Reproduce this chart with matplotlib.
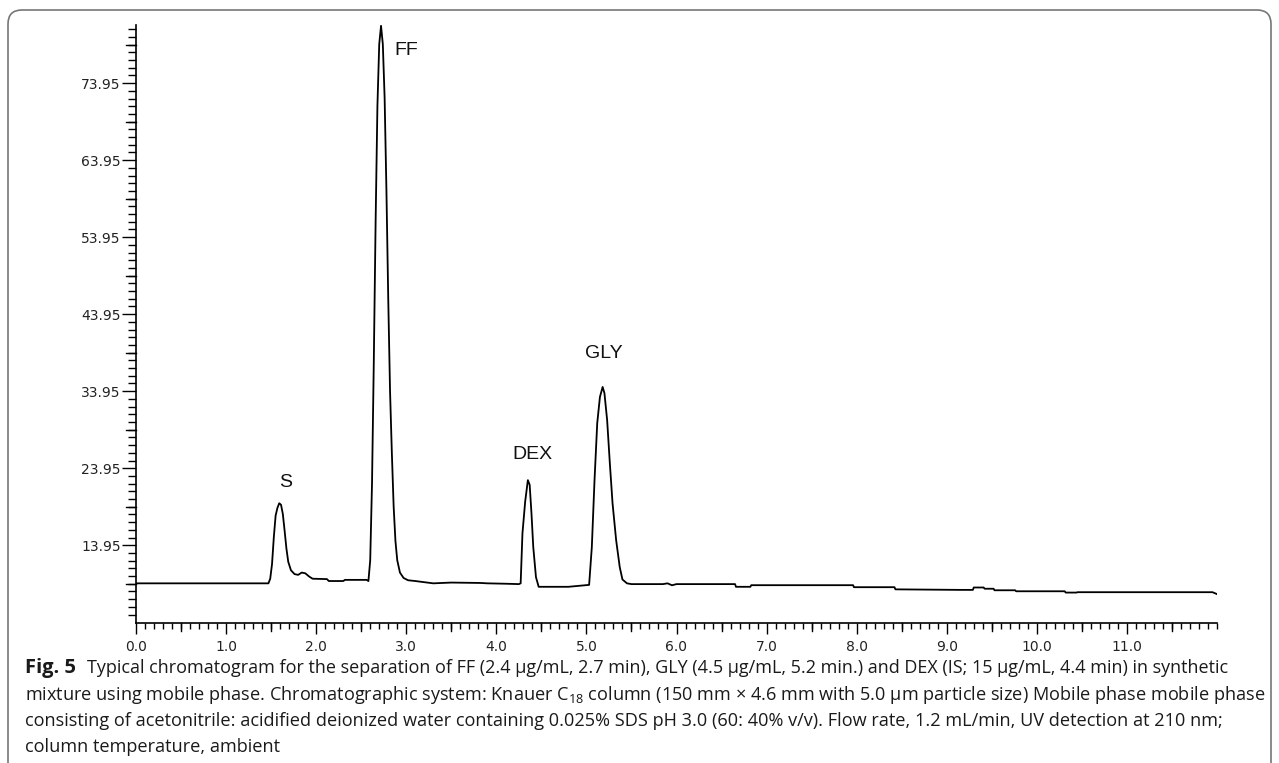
import matplotlib
matplotlib.use("Agg")
import matplotlib.pyplot as plt
from matplotlib.patches import FancyBboxPatch
from matplotlib.transforms import IdentityTransform
from matplotlib.ticker import FixedLocator
import numpy as np

# retention time (min) and detector signal
time = [0.0, 1.47, 1.49, 1.51, 1.53, 1.55, 1.57, 1.59, 1.61, 1.63, 1.65, 1.67, 1.69,
        1.72, 1.76, 1.80, 1.84, 1.88, 1.92, 1.96, 2.12, 2.14, 2.30, 2.32, 2.56,
        2.58, 2.60, 2.62, 2.64, 2.66, 2.68, 2.70, 2.72, 2.74, 2.76, 2.78, 2.80,
        2.82, 2.84, 2.86, 2.88, 2.90, 2.93, 2.97, 3.02, 3.10, 3.30, 3.50, 3.82,
        3.90, 4.10, 4.25, 4.27, 4.29, 4.32, 4.35, 4.37, 4.39, 4.41, 4.44, 4.47,
        4.80, 5.03, 5.06, 5.09, 5.12, 5.15, 5.18, 5.20, 5.23, 5.26, 5.29, 5.33,
        5.37, 5.40, 5.45, 5.50, 5.85, 5.90, 5.95, 6.00, 6.65, 6.66, 6.82, 6.83,
        7.96, 7.97, 8.42, 8.43, 9.15, 9.29, 9.30, 9.41, 9.42, 9.52, 9.53, 9.76,
        9.77, 10.31, 10.32, 10.44, 10.45, 11.95, 12.0]
signal = [9.0, 9.0, 9.6, 11.5, 15.0, 17.8, 18.8, 19.4, 19.2, 18.0, 15.8, 13.5, 11.8,
          10.7, 10.2, 10.1, 10.4, 10.3, 9.9, 9.6, 9.55, 9.3, 9.3, 9.45, 9.45,
          9.3, 12.0, 22.0, 38.0, 56.0, 71.0, 79.0, 81.4, 79.0, 72.0, 60.0, 46.0,
          34.0, 26.0, 19.0, 14.5, 12.0, 10.4, 9.7, 9.4, 9.3, 9.0, 9.1, 9.05,
          9.0, 8.95, 8.9, 9.0, 15.5, 19.6, 22.4, 21.8, 18.1, 13.7, 9.8, 8.55,
          8.55, 8.8, 13.7, 22.4, 29.8, 33.2, 34.5, 33.7, 30.2, 24.6, 19.4, 14.6,
          11.1, 9.5, 9.0, 8.9, 8.9, 9.0, 8.75, 8.9, 8.9, 8.55, 8.55, 8.76,
          8.76, 8.5, 8.5, 8.22, 8.15, 8.15, 8.46, 8.46, 8.3, 8.3, 8.1, 8.1,
          7.97, 7.97, 7.8, 7.8, 7.85, 7.85, 7.6]

peak_names = ["S", "FF", "DEX", "GLY"]
label_x = [1.66, 3.00, 4.40, 5.19]
label_y = [22.1, 78.2, 25.7, 38.9]

y_major = [13.95, 23.95, 33.95, 43.95, 53.95, 63.95, 73.95]
x_major = list(range(0, 12))

caption_bold = "Fig. 5"
caption_lines = [
    "Typical chromatogram for the separation of FF (2.4 µg/mL, 2.7 min), GLY (4.5 µg/mL, 5.2 min.) and DEX (IS; 15 µg/mL, 4.4 min) in synthetic",
    "mixture using mobile phase. Chromatographic system: Knauer C$_\\mathrm{18}$ column (150 mm × 4.6 mm with 5.0 µm particle size) Mobile phase mobile phase",
    "consisting of acetonitrile: acidified deionized water containing 0.025% SDS pH 3.0 (60: 40% v/v). Flow rate, 1.2 mL/min, UV detection at 210 nm;",
    "column temperature, ambient",
]
caption_sizes = [13.0, 13.05, 13.1, 13.1]

plt.rcParams["mathtext.fontset"] = "custom"
plt.rcParams["mathtext.rm"] = "Open Sans"

W, H = 1279, 763
fig = plt.figure(figsize=(W / 100, H / 100), dpi=100)
ax_l, ax_r, ax_t, ax_b = 136, 1217, 25, 623
ax = fig.add_axes([ax_l / W, 1 - ax_b / H, (ax_r - ax_l) / W, (ax_b - ax_t) / H])

ax.plot(time, signal, color="black", lw=1.3)
ax.set_xlim(0, 12)
ax.set_ylim(3.85, 81.5)

for s in ["top", "right"]:
    ax.spines[s].set_visible(False)
for s in ["left", "bottom"]:
    ax.spines[s].set_linewidth(1.2)

ax.set_yticks(y_major)
ax.set_yticklabels(["%.2f" % v for v in y_major])
ax.yaxis.set_minor_locator(FixedLocator(np.arange(4.95, 81.0, 1.0)))
ax.set_xticks(x_major)
ax.set_xticklabels(["%.1f" % v for v in x_major])
ax.xaxis.set_minor_locator(FixedLocator(np.arange(0.1, 12.01, 0.1)))

ax.tick_params(axis="y", which="major", length=10, width=1.0, pad=1, labelsize=10)
ax.tick_params(axis="y", which="minor", length=6, width=1.0)
ax.tick_params(axis="x", which="major", length=8, width=1.0, pad=4, labelsize=10)
ax.tick_params(axis="x", which="minor", length=4.5, width=1.0)
for lab in ax.get_xticklabels() + ax.get_yticklabels():
    lab.set_family("DejaVu Sans")
    lab.set_color("#222222")

# half-way ticks drawn a bit longer
for v in np.arange(8.95, 81.0, 10.0):
    ax.plot([-10 / (ax_r - ax_l), 0], [v, v], color="black", lw=1.0, clip_on=False,
            transform=ax.get_yaxis_transform())
for v in np.arange(0.5, 12.0, 1.0):
    ax.plot([v, v], [0, -8 / (ax_b - ax_t)], color="black", lw=1.0, clip_on=False,
            transform=ax.get_xaxis_transform())

for name, lx, ly in zip(peak_names, label_x, label_y):
    ax.text(lx, ly, name, ha="center", va="center", fontsize=14,
            family="Liberation Sans", color="#111111")

# caption
cap_x = 25 / W
cap_y = [668, 695, 721, 747]
fig.canvas.draw()
r = fig.canvas.get_renderer()
tb = fig.text(cap_x, 1 - cap_y[0] / H, caption_bold, fontsize=14.5, weight="bold",
              family="Open Sans", va="center", ha="left", color="#1a1a1a")
bb = tb.get_window_extent(renderer=r)
fig.text((bb.x1 + 11) / W, 1 - cap_y[0] / H, caption_lines[0], fontsize=caption_sizes[0],
         family="Open Sans", va="center", ha="left", color="#1a1a1a")
for line, yy, fs in zip(caption_lines[1:], cap_y[1:], caption_sizes[1:]):
    fig.text(cap_x, 1 - yy / H, line, fontsize=fs, family="Open Sans",
             va="center", ha="left", color="#1a1a1a")

frame = FancyBboxPatch((8, -30), W - 16, H - 10 + 30,
                       boxstyle="round,pad=0,rounding_size=14",
                       transform=IdentityTransform(), fill=False,
                       edgecolor="#777777", lw=1.2)
fig.patches.append(frame)

fig.savefig("out.png", dpi=100)
